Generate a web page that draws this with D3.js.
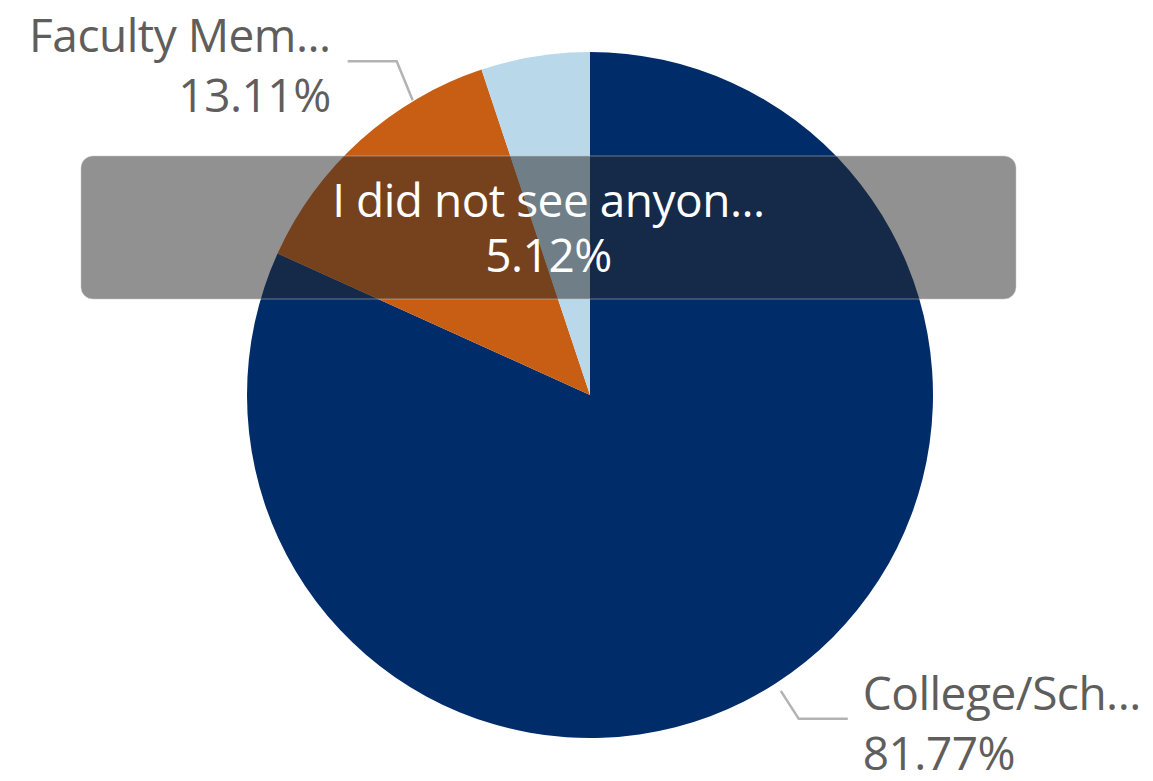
<!DOCTYPE html>
<html>
<head>
<meta charset="utf-8">
<script src="https://cdn.jsdelivr.net/npm/d3@7"></script>
<style>
  html, body { margin: 0; padding: 0; background: #fff; }
  svg { display: block; }
  text { font-family: "Segoe UI", "Open Sans", "Noto Sans", sans-serif; letter-spacing: -0.5px; }
</style>
</head>
<body>
<div id="chart"></div>
<script>
// slices in drawing order, clockwise from 12 o'clock
const categories = ["College/Sch...", "Faculty Mem...", "I did not see anyon..."];
const shares = [81.77, 13.11, 5.12];
const sliceColors = ["#002D6A", "#C85E14", "#B9D9EB"];
const shownLabels = ["College/Sch...", "Faculty Mem..."];
const hovered = "I did not see anyon...";

const W = 1153, H = 781;
const cx = 590, cy = 395, radius = 343;
const fontSize = 46;

const svg = d3.select("#chart").append("svg")
    .attr("width", W)
    .attr("height", H);

const data = categories.map((c, i) => ({name: c, value: shares[i], color: sliceColors[i]}));

const pie = d3.pie().sort(null).value(d => d.value);
const arcs = pie(data);
const arc = d3.arc().innerRadius(0).outerRadius(radius);

const g = svg.append("g").attr("transform", `translate(${cx},${cy})`);

g.selectAll("path.slice")
    .data(arcs)
    .join("path")
    .attr("class", "slice")
    .attr("d", arc)
    .attr("fill", d => d.data.color);

// outside labels with leader lines
const fmt = d => d.toFixed(2) + "%";
const labelLayout = {
    "College/Sch...": {nudge: 0, rOut: 9, kinkDx: 18, kinkDy: 28, run: 49, gap: 15},
    "Faculty Mem...": {nudge: 11, rOut: 1, kinkDx: -16, kinkDy: -39, run: -49, gap: 17}
};

arcs.filter(a => shownLabels.includes(a.data.name)).forEach(a => {
    const L = labelLayout[a.data.name];
    const ang = (a.startAngle + a.endAngle) / 2 + L.nudge * Math.PI / 180;
    const r0 = radius + L.rOut;
    const p0 = [Math.sin(ang) * r0, -Math.cos(ang) * r0];
    const p1 = [p0[0] + L.kinkDx, p0[1] + L.kinkDy];
    const p2 = [p1[0] + L.run, p1[1]];
    g.append("polyline")
        .attr("points", [p0, p1, p2].map(p => p.join(",")).join(" "))
        .attr("fill", "none")
        .attr("stroke", "#b3b3b3")
        .attr("stroke-width", 2.5);

    const right = L.run < 0;
    const tx = p2[0] + (right ? -L.gap : L.gap);
    const t = g.append("text")
        .attr("x", tx)
        .attr("y", p1[1])
        .attr("text-anchor", right ? "end" : "start")
        .attr("fill", "#605E5C")
        .style("font-size", fontSize + "px");
    t.append("tspan").attr("x", tx).attr("dy", -9).text(a.data.name);
    t.append("tspan").attr("x", tx).attr("dy", 60).text(fmt(a.data.value));
});

// hover tooltip band
const tip = {x: 81, y: 156, w: 935, h: 143};
const hv = data.find(d => d.name === hovered);
svg.append("rect")
    .attr("x", tip.x).attr("y", tip.y)
    .attr("width", tip.w).attr("height", tip.h)
    .attr("rx", 12).attr("ry", 12)
    .attr("fill", "rgba(39,39,39,0.51)")
    .attr("stroke", "rgba(200,200,200,0.5)")
    .attr("stroke-width", 1);
const tt = svg.append("text")
    .attr("x", tip.x + tip.w / 2)
    .attr("y", tip.y)
    .attr("text-anchor", "middle")
    .attr("fill", "#ffffff")
    .style("font-size", fontSize + "px");
tt.append("tspan").attr("x", tip.x + tip.w / 2).attr("dy", 61).text(hv.name);
tt.append("tspan").attr("x", tip.x + tip.w / 2).attr("dy", 55).text(fmt(hv.value));
</script>
</body>
</html>
